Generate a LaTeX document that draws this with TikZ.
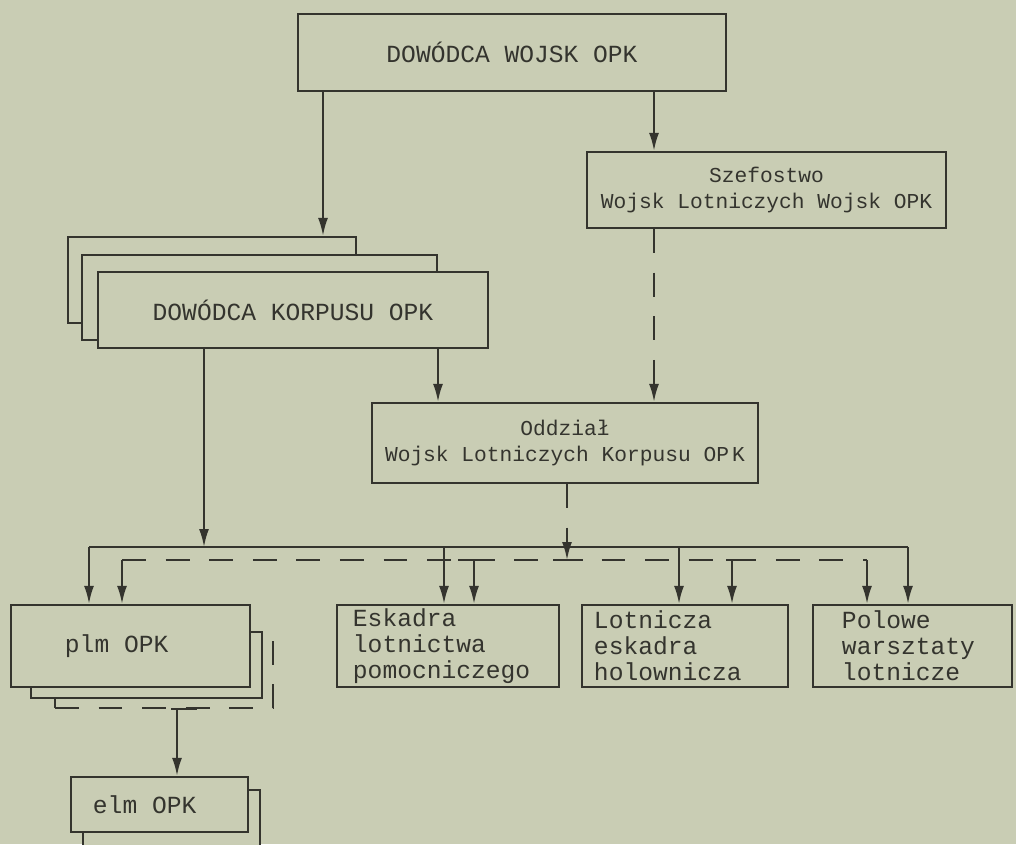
\documentclass[tikz,border=0pt]{standalone}
\usepackage{fontspec}
\newfontfamily\plotfont{Liberation Mono}
\usepackage{tikz}
\usetikzlibrary{arrows.meta,positioning,calc}
\definecolor{paper}{RGB}{201,205,180}
\definecolor{ink}{RGB}{52,52,46}

\begin{document}
\begin{tikzpicture}[x=0.025cm,y=-0.025cm,
  box/.style={draw=ink,fill=paper,line width=1.6pt,inner sep=0pt,text=ink,
    font=\plotfont\fontsize{17.5}{18.5}\selectfont,align=center},
  boxsmall/.style={box,font=\plotfont\fontsize{15.1}{18.5}\selectfont},
  unitbox/.style={box,align=left,minimum height=2.05cm},
  ghost/.style={draw=ink,fill=paper,line width=1.6pt,inner sep=0pt},
  link/.style={draw=ink,line width=1.5pt},
  arr/.style={link,-{Latex[length=0.45cm,width=0.25cm]}},
  dashlink/.style={link,dash pattern=on 17pt off 14pt}]
  \path[use as bounding box,fill=paper] (0,0) rectangle (1016,844);
  \clip (0,0) rectangle (1016,844);
  % command level
  \node[box,minimum width=10.7cm,minimum height=1.925cm] (dowodca) at (512,52.5) {DOWÓDCA WOJSK OPK};
  \node[boxsmall,minimum width=8.975cm,minimum height=1.9cm] (szef) at (766.5,190) {Szefostwo\\Wojsk Lotniczych Wojsk OPK};
  % corps stack
  \node[ghost,minimum width=7.2cm,minimum height=2.15cm] (korpusC) at (212,280) {};
  \node[ghost,minimum width=8.875cm,minimum height=2.125cm] (korpusB) at (259.5,297.5) {};
  \node[box,minimum width=9.75cm,minimum height=1.9cm] (korpus) at (293,310) {DOWÓDCA KORPUSU OPK};
  \node[boxsmall,minimum width=9.65cm,minimum height=2cm] (oddzial) at (565,443) {Oddział\\Wojsk Lotniczych Korpusu OP\kern0.15em K};
  % units
  \node[ghost,dashlink,minimum width=5.45cm,minimum height=1.75cm] (plmC) at (164,673) {};
  \node[ghost,minimum width=5.775cm,minimum height=1.65cm] (plmB) at (146.5,665) {};
  \node[unitbox,inner xsep=1.35cm,text width=3.275cm] (plm) at (130.5,646) {plm\kern0.6em OPK};
  \node[unitbox,inner xsep=0.4cm,text width=4.75cm] (eskadra) at (448,646) {Eskadra\\lotnictwa\\pomocniczego};
  \node[unitbox,inner xsep=0.3cm,text width=4.55cm] (lotnicza) at (685,646) {Lotnicza\\eskadra\\holownicza};
  \node[unitbox,inner xsep=0.725cm,text width=3.525cm] (polowe) at (912.5,646) {Polowe\\warsztaty\\lotnicze};
  \node[ghost,minimum width=4.425cm,minimum height=2cm] (elmB) at (171.5,830) {};
  \node[box,align=left,inner xsep=0.55cm,text width=3.325cm,minimum height=1.375cm] (elm) at (159.5,804.5) {elm\kern0.6em OPK};
  % drop points
  \coordinate (k1) at (323,0);
  \coordinate (k2) at (204,547);
  \coordinate (k3) at (438,0);
  \coordinate (s1) at (654,0);
  \coordinate (o1) at (567,0);
  \coordinate (e1) at (177,0);
  \coordinate (busL) at (89,547);
  \coordinate (busR) at (908,547);
  \coordinate (b2) at (444,547);
  \coordinate (b3) at (679,547);
  \coordinate (dbusL) at (122,560);
  \coordinate (dbusR) at (867,560);
  \coordinate (d2) at (474,560);
  \coordinate (d3) at (732,560);
  % connectors
  \draw[arr] (dowodca.south -| k1) -- (korpusC.north -| k1);
  \draw[arr] (dowodca.south -| s1) -- (szef.north -| s1);
  \draw[arr,dashlink] (szef.south -| s1) -- (oddzial.north -| s1);
  \draw[arr] (korpus.south -| k3) -- (oddzial.north -| k3);
  \draw[arr] (korpus.south -| k2) -- (k2);
  % solid bus
  \draw[link] (busL) -- (busR);
  \draw[arr] (busL) -- (busL |- plm.north);
  \draw[arr] (b2) -- (b2 |- eskadra.north);
  \draw[arr] (b3) -- (b3 |- lotnicza.north);
  \draw[arr] (busR) -- (busR |- polowe.north);
  % dashed bus
  \draw[dashlink] (dbusL) -- (dbusR);
  \draw[link] ([xshift=-0.4cm]d2) -- ([xshift=0.45cm]d2);
  \draw[link] ([xshift=-0.15cm]d3) -- ([xshift=0.5cm]d3);
  \draw[link] ([xshift=-0.35cm]o1 |- dbusL) -- ([xshift=0.4cm]o1 |- dbusL);
  \draw[arr,dashlink] (oddzial.south -| o1) -- (o1 |- dbusL);
  \draw[arr] (dbusL) -- (dbusL |- plm.north);
  \draw[arr] (d2) -- (d2 |- eskadra.north);
  \draw[arr] (d3) -- (d3 |- lotnicza.north);
  \draw[arr] (dbusR) -- (dbusR |- polowe.north);
  % plm to elm
  \draw[link] ([xshift=-0.15cm]plmC.south -| e1) -- ([xshift=0.5cm]plmC.south -| e1);
  \draw[arr] (plmC.south -| e1) -- (elm.north -| e1);
\end{tikzpicture}
\end{document}
